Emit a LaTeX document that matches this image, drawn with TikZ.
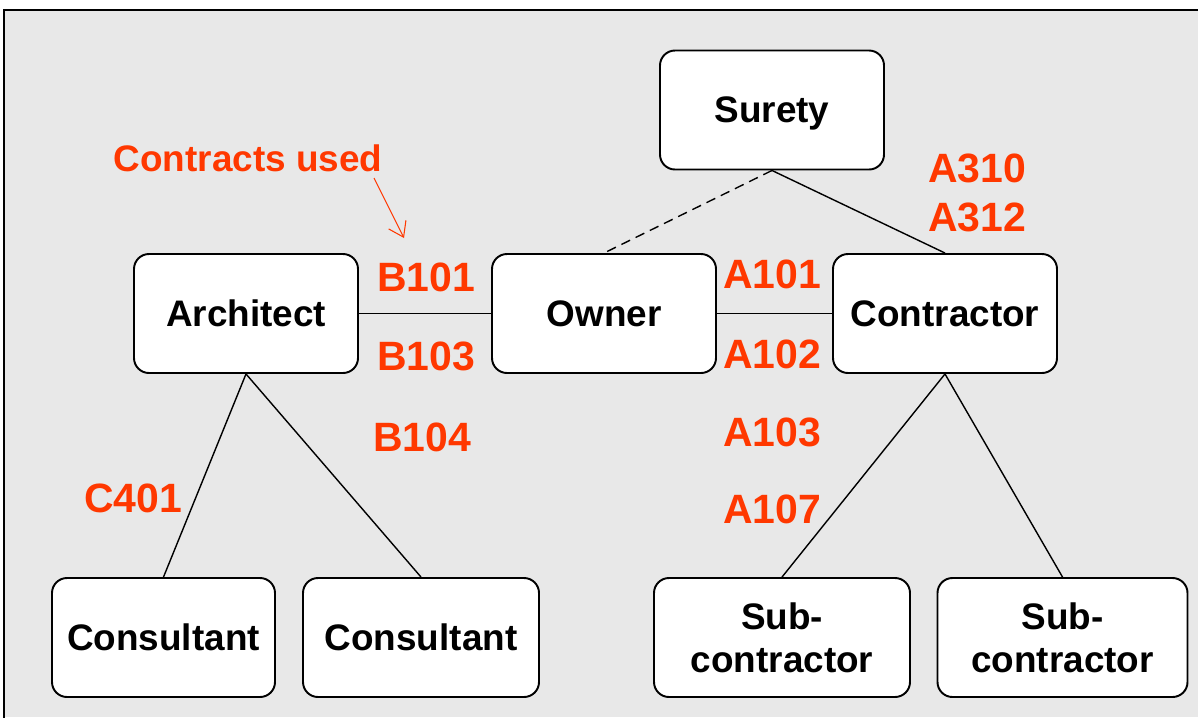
\documentclass[tikz,border=0pt]{standalone}
\usepackage{fontspec}
\setmainfont{Liberation Sans}
\usetikzlibrary{arrows.meta}
\definecolor{labelred}{RGB}{255,56,0}
\definecolor{framegray}{RGB}{232,232,232}

\begin{document}
\begin{tikzpicture}[
    party/.style={draw, fill=white, rectangle, rounded corners=0.3cm, line width=1.1pt,
      minimum height=2.38cm, align=center, font=\fontsize{21}{24.5}\selectfont\bfseries},
    contract/.style={text=labelred, font=\fontsize{23.3}{26}\selectfont\bfseries},
    link/.style={line width=0.8pt}]
  \useasboundingbox (0.00,0.00) rectangle (23.96,-14.34);
  \fill[framegray] (0.08,-0.20) rectangle (23.96,-14.34);
  \draw[line width=1.1pt] (0.08,-14.40) |- (24.00,-0.20);
  \node[party, minimum width=4.48cm, text depth=0pt] (surety) at (15.44,-2.20) {Surety};
  \node[party, minimum width=4.48cm] (architect) at (4.92,-6.27) {Architect};
  \node[party, minimum width=4.48cm] (owner) at (12.08,-6.27) {Owner};
  \node[party, minimum width=4.48cm] (contractor) at (18.90,-6.27) {Contractor};
  \node[party, minimum width=4.46cm] (consultant1) at (3.27,-12.75) {Consultant};
  \node[party, minimum width=4.72cm] (consultant2) at (8.42,-12.75) {Consultant};
  \node[party, minimum width=5.12cm] (sub1) at (15.64,-12.75) {Sub-\\contractor};
  \node[party, minimum width=5.00cm] (sub2) at (21.25,-12.75) {Sub-\\contractor};
  % Draw the contract relations
  \draw[link] (architect) -- (owner);
  \draw[link] (owner) -- (contractor);
  \draw[link, dash pattern=on 5.5pt off 3.5pt] (surety.south) -- (owner.north);
  \draw[link] (surety.south) -- (contractor.north);
  \draw[link] (architect.south) -- (consultant1.north);
  \draw[link] (architect.south) -- (consultant2.north);
  \draw[link] (contractor.south) -- (sub1.north);
  \draw[link] (contractor.south) -- (sub2.north);
  % Contract forms
  \node[contract, font=\fontsize{21}{24}\selectfont\bfseries] (used) at (4.96,-3.16) {Contracts used};
  \node[contract] (b101) at (8.52,-5.54) {B101};
  \node[contract] (b103) at (8.52,-7.12) {B103};
  \node[contract] (b104) at (8.44,-8.74) {B104};
  \node[contract] (a101) at (15.44,-5.48) {A101};
  \node[contract] (a102) at (15.44,-7.08) {A102};
  \node[contract] (a103) at (15.44,-8.64) {A103};
  \node[contract] (a107) at (15.44,-10.18) {A107};
  \node[contract] (a310) at (19.54,-3.36) {A310};
  \node[contract] (a312) at (19.54,-4.34) {A312};
  \node[contract] (c401) at (2.66,-9.96) {C401};
  \coordinate (usedtip) at (8.08,-4.76);
  \draw[labelred, line width=0.6pt, -{Straight Barb[length=8pt,width=11pt,line width=0.6pt]}] (7.48,-3.56) -- (usedtip);
\end{tikzpicture}
\end{document}
